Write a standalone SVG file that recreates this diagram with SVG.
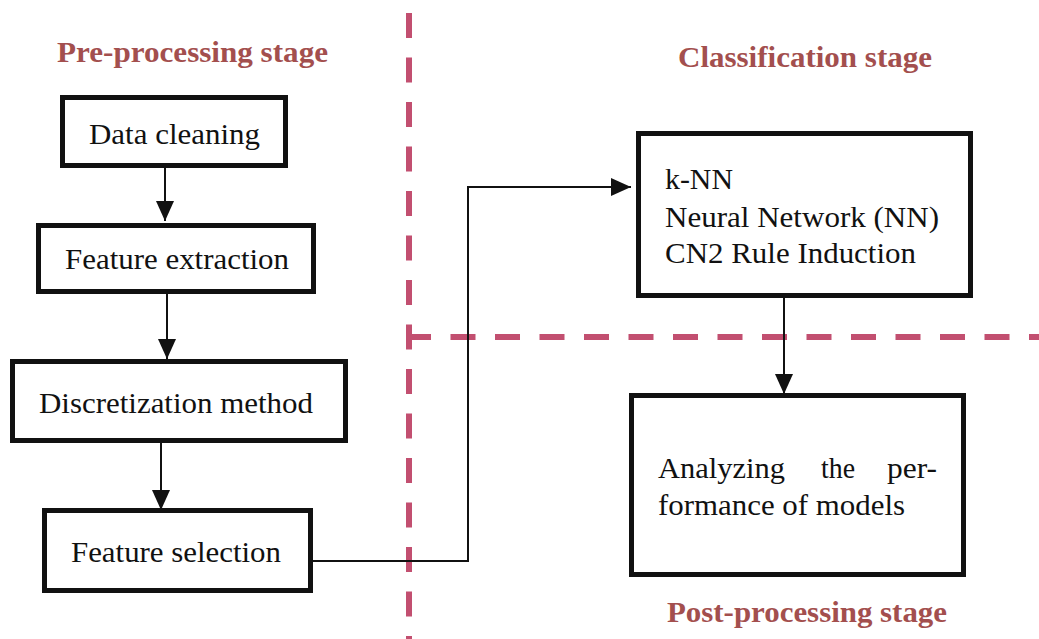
<svg xmlns="http://www.w3.org/2000/svg" width="1039" height="639" viewBox="0 0 1039 639">
<style>
.box{fill:#fff;stroke:#111;stroke-width:5}
.t{font-family:"Liberation Serif","Times New Roman",serif;font-size:30px;fill:#111}
.h{font-family:"Liberation Serif","Times New Roman",serif;font-size:30px;font-weight:bold;fill:#a34f4e}
.c{fill:none;stroke:#111;stroke-width:2}
.d{fill:none;stroke:#c24f70;stroke-width:6;stroke-dasharray:25 19.5}
</style>
<defs>
<marker id="ah" viewBox="0 0 20 18" refX="20" refY="9" markerWidth="20" markerHeight="18" markerUnits="userSpaceOnUse" orient="auto">
<path d="M0,0 L20,9 L0,18 Z" fill="#111"/>
</marker>
</defs>
<rect width="1039" height="639" fill="#fff"/>
<g id="dividers">
<line class="d" x1="409" y1="13" x2="409" y2="639"/>
<line class="d" x1="406" y1="337" x2="1039" y2="337"/>
</g>
<g id="headings">
<text class="h" x="57" y="62" textLength="271" lengthAdjust="spacingAndGlyphs">Pre-processing stage</text>
<text class="h" x="678" y="67" textLength="254" lengthAdjust="spacingAndGlyphs">Classification stage</text>
<text class="h" x="667" y="622" textLength="280" lengthAdjust="spacingAndGlyphs">Post-processing stage</text>
</g>
<g id="connectors">
<line class="c" x1="165" y1="168" x2="165" y2="221" marker-end="url(#ah)"/>
<line class="c" x1="167" y1="294" x2="167" y2="359" marker-end="url(#ah)"/>
<line class="c" x1="161" y1="443" x2="161" y2="510" marker-end="url(#ah)"/>
<polyline class="c" points="313,561 468,561 468,187 631,187" marker-end="url(#ah)"/>
<line class="c" x1="784" y1="298" x2="784" y2="394" marker-end="url(#ah)"/>
</g>
<g id="data-cleaning">
<rect class="box" x="62.5" y="97.5" width="223" height="68"/>
<text class="t" x="89" y="144" textLength="171" lengthAdjust="spacingAndGlyphs">Data cleaning</text>
</g>
<g id="feature-extraction">
<rect class="box" x="38.5" y="225.5" width="275" height="66"/>
<text class="t" x="65" y="269" textLength="224" lengthAdjust="spacingAndGlyphs">Feature extraction</text>
</g>
<g id="discretization">
<rect class="box" x="12.5" y="361.5" width="333" height="79"/>
<text class="t" x="39" y="413" textLength="274" lengthAdjust="spacingAndGlyphs">Discretization method</text>
</g>
<g id="feature-selection">
<rect class="box" x="44.5" y="510.5" width="266" height="80"/>
<text class="t" x="71" y="562" textLength="210" lengthAdjust="spacingAndGlyphs">Feature selection</text>
</g>
<g id="classification">
<rect class="box" x="638.5" y="133.5" width="332" height="162"/>
<text class="t" x="665" y="189" textLength="68" lengthAdjust="spacingAndGlyphs">k-NN</text>
<text class="t" x="665" y="227" textLength="274" lengthAdjust="spacingAndGlyphs">Neural Network (NN)</text>
<text class="t" x="665" y="263" textLength="251" lengthAdjust="spacingAndGlyphs">CN2 Rule Induction</text>
</g>
<g id="post-processing">
<rect class="box" x="631.5" y="395.5" width="332" height="179"/>
<text class="t" y="478"><tspan x="658" textLength="127" lengthAdjust="spacingAndGlyphs">Analyzing</tspan><tspan x="821" textLength="34" lengthAdjust="spacingAndGlyphs">the</tspan><tspan x="887" textLength="50" lengthAdjust="spacingAndGlyphs">per-</tspan></text>
<text class="t" x="658" y="515" textLength="247" lengthAdjust="spacingAndGlyphs">formance of models</text>
</g>
</svg>
